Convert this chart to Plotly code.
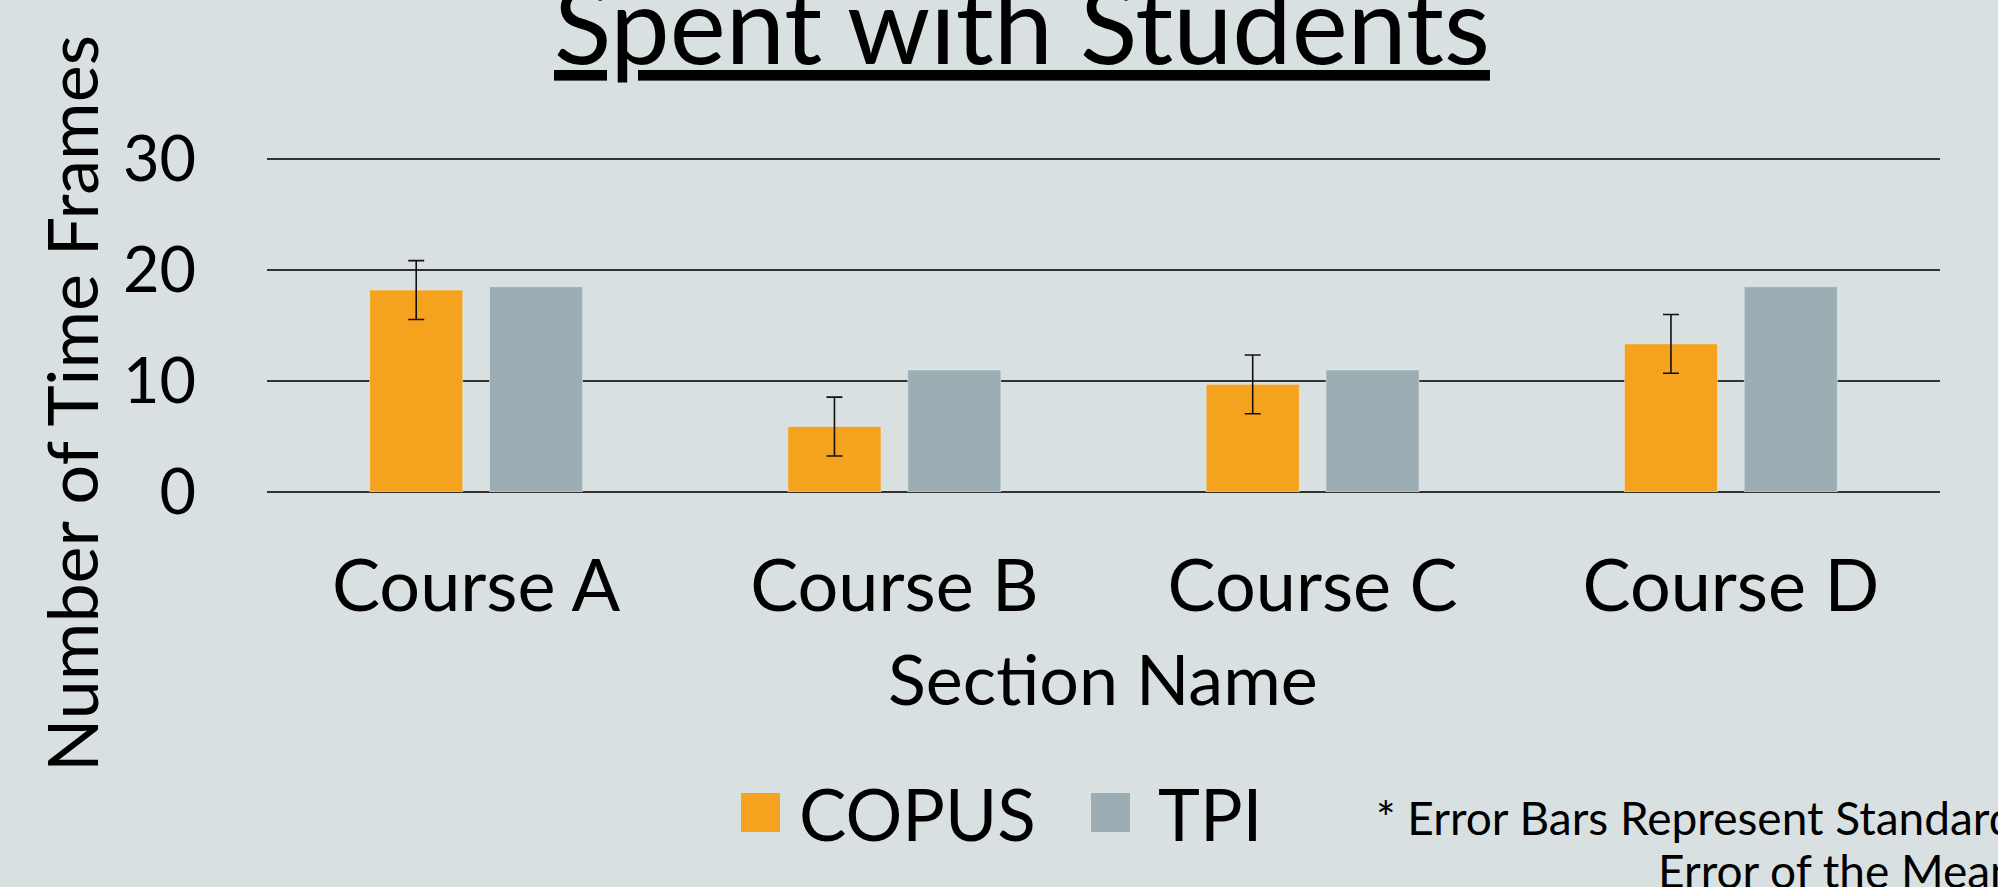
import plotly.graph_objects as go

categories = ["Course A", "Course B", "Course C", "Course D"]
copus_values = [18.2, 5.9, 9.7, 13.35]
copus_errors = [2.65, 2.65, 2.65, 2.65]
tpi_values = [18.5, 11.0, 11.0, 18.5]
y_ticks = [0, 10, 20, 30]

FONT = "Lato"
BG = "#D8E0E2"
ORANGE = "#F5A31E"
GRAY = "#9CAEB3"

fig = go.Figure()
fig.add_trace(go.Bar(
    name="COPUS", x=categories, y=copus_values, marker_color=ORANGE,
    error_y=dict(type="data", array=copus_errors, visible=True,
                 color="#111111", thickness=1.6, width=8),
    showlegend=False,
))
fig.add_trace(go.Bar(
    name="TPI", x=categories, y=tpi_values, marker_color=GRAY,
    showlegend=False,
))

W, H = 1998, 887
ml, mr, mb = 267, 58, 395
ymax = 30.1
ph = 333.0 * ymax / 30.0
mt = H - mb - ph
pw = W - ml - mr

def px_x(x):
    return (x - ml) / pw

def px_y(y):
    return (H - mb - y) / ph

annotations = [
    dict(text="<u>Spent with Students</u>", xref="paper", yref="paper",
         x=px_x(1022), y=px_y(89), xanchor="center", yanchor="bottom",
         showarrow=False, font=dict(family=FONT, size=106, color="black")),
    dict(text="Number of Time Frames", xref="paper", yref="paper",
         x=px_x(71), y=px_y(404), xanchor="center", yanchor="middle", textangle=-90,
         showarrow=False, font=dict(family=FONT, size=70, color="black")),
    dict(text="Section Name", xref="paper", yref="paper",
         x=px_x(1103), y=px_y(678), xanchor="center", yanchor="middle",
         showarrow=False, font=dict(family=FONT, size=70, color="black")),
    dict(text="COPUS", xref="paper", yref="paper", x=px_x(797), y=px_y(814),
         xanchor="left", yanchor="middle", showarrow=False,
         font=dict(family=FONT, size=71, color="black")),
    dict(text="TPI", xref="paper", yref="paper", x=px_x(1156), y=px_y(814),
         xanchor="left", yanchor="middle", showarrow=False,
         font=dict(family=FONT, size=71, color="black")),
    dict(text="* Error Bars Represent Standard", xref="paper", yref="paper",
         x=px_x(2016), y=px_y(788), xanchor="right", yanchor="top", align="right",
         showarrow=False, font=dict(family=FONT, size=46, color="black")),
    dict(text="Error of the Mean", xref="paper", yref="paper",
         x=px_x(2018), y=px_y(841), xanchor="right", yanchor="top", align="right",
         showarrow=False, font=dict(family=FONT, size=46, color="black")),
]

shapes = [
    dict(type="rect", xref="paper", yref="paper", x0=px_x(741), x1=px_x(780),
         y0=px_y(832), y1=px_y(793), fillcolor=ORANGE, line_width=0),
    dict(type="rect", xref="paper", yref="paper", x0=px_x(1091), x1=px_x(1130),
         y0=px_y(832), y1=px_y(793), fillcolor=GRAY, line_width=0),
]

fig.update_layout(
    width=W, height=H,
    margin=dict(l=ml, r=mr, t=mt, b=mb, pad=0),
    paper_bgcolor=BG, plot_bgcolor=BG,
    barmode="group", bargap=0.427, bargroupgap=0.223,
    font=dict(family=FONT, color="black"),
    annotations=annotations, shapes=shapes,
    xaxis=dict(
        tickfont=dict(size=72), ticklabelstandoff=46,
        showgrid=False, showline=False, ticks="",
    ),
    yaxis=dict(
        range=[0, ymax], tickvals=y_ticks, tickfont=dict(size=63),
        ticklabelstandoff=70, showgrid=True, gridcolor="#333333", gridwidth=1.7,
        zeroline=True, zerolinecolor="#333333", zerolinewidth=1.7,
        showline=False, ticks="",
    ),
)

fig.write_html("out.html", config={"displayModeBar": False},
               post_script="document.body.style.margin='0';")
